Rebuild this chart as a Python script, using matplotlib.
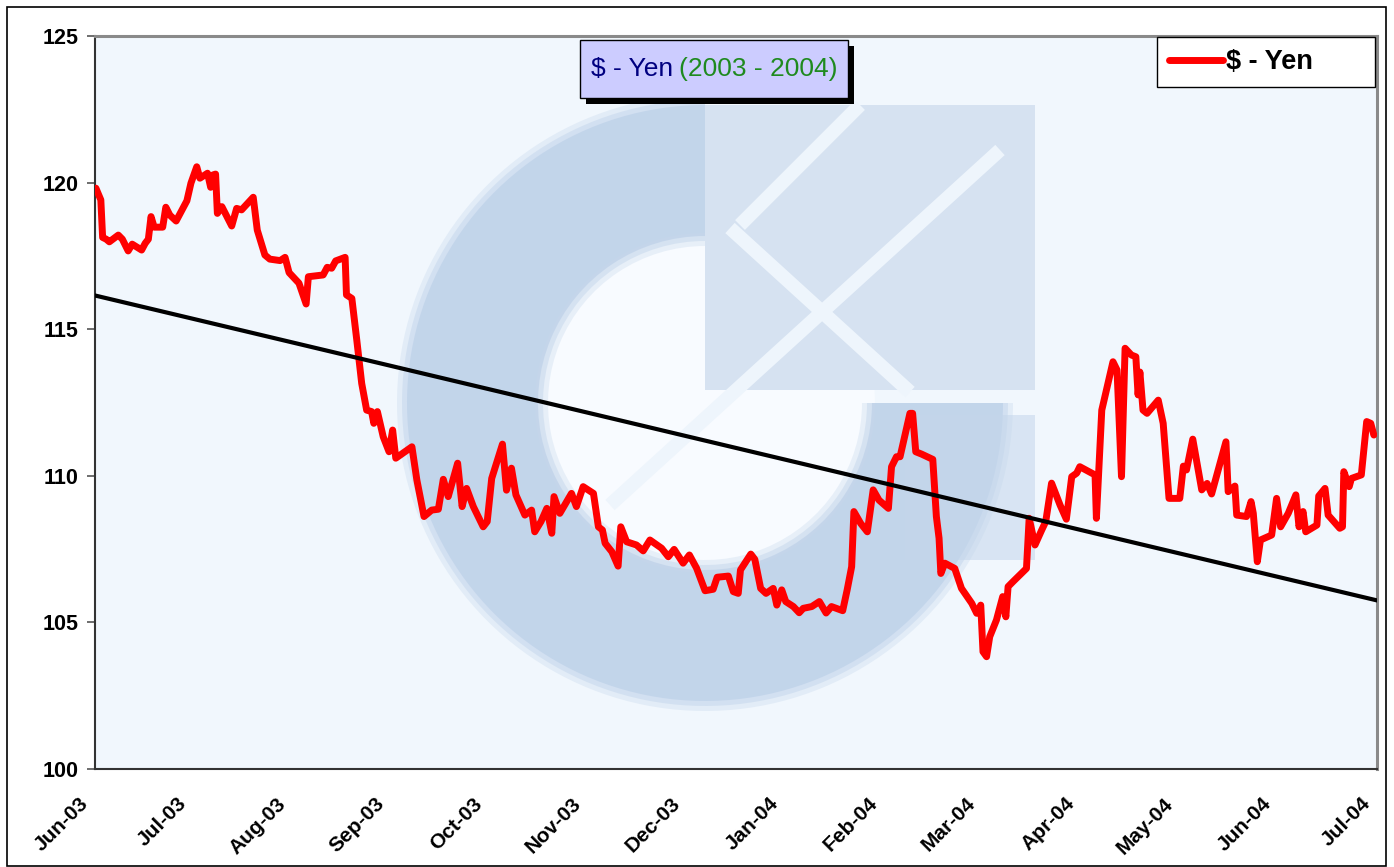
import matplotlib.pyplot as plt
import matplotlib.patches as mpatches
import matplotlib.transforms as mtransforms
import numpy as np

# trading-day index (category position) and USD/JPY rate
day = [0.2, 1.3, 1.7, 2.5, 3.2, 5.2, 6.1, 7.4, 8.3, 10.4, 11.2, 11.9, 12.5, 13.2, 15.1,
       15.8, 16.7, 18.1, 20.5, 21.4, 22.7, 23.4, 25.1, 25.8, 26.3, 26.9, 27.3, 28.3, 30.5,
       31.6, 32.7, 35.3, 36.2, 37.9, 39.0, 41.3, 42.4, 43.3, 45.5, 47.1, 47.6, 50.9, 51.8,
       52.8, 53.7, 55.8, 56.1, 57.3, 58.4, 59.5, 60.6, 61.7, 62.2, 63.0, 64.3, 65.6, 66.4,
       67.1, 70.7, 71.8, 73.4, 75.1, 76.6, 77.7, 78.8, 80.9, 81.9, 82.9, 84.4, 86.6, 87.5,
       88.5, 90.9, 91.8, 92.9, 93.9, 95.9, 97.4, 98.1, 99.5, 100.8, 101.9, 102.4, 103.7,
       106.3, 107.4, 108.9, 111.2, 112.3, 113.2, 113.8, 115.3, 116.7, 117.3, 118.6, 120.8,
       122.3, 123.8, 126.4, 127.9, 129.2, 131.2, 132.6, 134.2, 136.1, 137.9, 138.8, 141.3,
       142.4, 143.5, 144.0, 146.3, 147.2, 148.5, 149.7, 151.3, 152.1, 153.2, 154.1, 155.8,
       157.1, 158.0, 159.9, 161.6, 163.1, 164.3, 166.8, 167.8, 168.8, 169.3, 170.8, 172.3,
       173.6, 174.9, 177.0, 177.7, 178.8, 179.6, 181.8, 182.4, 183.1, 184.4, 186.9, 187.7,
       188.3, 188.7, 189.6, 191.8, 193.3, 195.6, 196.7, 197.6, 198.1, 198.9, 199.6, 201.1,
       202.5, 203.2, 203.7, 204.8, 207.8, 208.4, 209.7, 211.2, 212.1, 213.4, 215.3, 216.7,
       217.9, 219.0, 219.7, 223.1, 223.4, 224.6, 227.1, 228.0, 229.0, 229.8, 231.2, 232.2,
       232.7, 233.1, 233.8, 234.7, 237.2, 238.3, 239.6, 242.0, 242.8, 243.5, 244.9, 246.9,
       248.1, 249.1, 252.3, 252.8, 254.3, 254.7, 256.9, 257.9, 258.4, 259.3, 260.0, 262.5,
       263.6, 264.5, 266.2, 267.9, 268.6, 269.5, 270.1, 272.6, 273.0, 274.4, 275.1, 277.7,
       278.3, 278.6, 279.8, 280.3, 282.5, 283.7, 284.6, 285.3]
rate = [119.81, 119.41, 118.13, 118.07, 117.98, 118.21, 118.07, 117.67, 117.90, 117.70,
        117.93, 118.07, 118.84, 118.48, 118.48, 119.16, 118.89, 118.69, 119.38, 119.98,
        120.54, 120.15, 120.32, 119.84, 120.26, 120.29, 118.95, 119.18, 118.52, 119.12,
        119.07, 119.50, 118.38, 117.53, 117.39, 117.34, 117.45, 116.93, 116.57, 115.86,
        116.79, 116.85, 117.11, 117.08, 117.33, 117.45, 116.17, 116.05, 114.63, 113.15,
        112.24, 112.19, 111.79, 112.19, 111.33, 110.82, 111.56, 110.60, 110.99, 109.86,
        108.61, 108.83, 108.86, 109.88, 109.29, 110.43, 108.95, 109.57, 108.95, 108.26,
        108.44, 109.91, 111.08, 109.51, 110.26, 109.35, 108.66, 108.83, 108.09, 108.44,
        108.89, 108.04, 109.29, 108.72, 109.40, 108.95, 109.63, 109.40, 108.26, 108.15,
        107.70, 107.41, 106.92, 108.26, 107.75, 107.64, 107.44, 107.81, 107.53, 107.24,
        107.49, 107.02, 107.30, 106.85, 106.08, 106.13, 106.54, 106.58, 106.05, 105.99,
        106.79, 107.33, 107.15, 106.16, 105.99, 106.16, 105.59, 106.11, 105.71, 105.54,
        105.33, 105.48, 105.54, 105.71, 105.32, 105.54, 105.40, 106.11, 106.90, 108.78,
        108.38, 108.09, 109.52, 109.17, 108.89, 110.31, 110.65, 110.65, 112.13, 112.13,
        110.82, 110.74, 110.56, 108.61, 107.87, 106.67, 107.02, 106.84, 106.16, 105.65,
        105.31, 105.59, 104.00, 103.83, 104.51, 105.08, 105.88, 105.19, 106.22, 106.39,
        106.84, 108.55, 107.64, 108.15, 108.44, 109.75, 109.00, 108.52, 109.97, 110.09,
        110.31, 110.03, 108.55, 112.24, 113.89, 113.61, 109.97, 114.35, 114.12, 114.06,
        112.76, 113.54, 112.24, 112.13, 112.58, 111.79, 109.23, 109.23, 110.33, 110.20,
        111.25, 109.52, 109.74, 109.38, 111.16, 109.46, 109.65, 108.66, 108.61, 109.12,
        108.72, 107.07, 107.81, 107.98, 109.23, 108.26, 108.72, 109.35, 108.26, 108.78,
        108.09, 108.32, 109.31, 109.57, 108.66, 108.21, 108.26, 110.14, 109.63, 109.91,
        110.03, 111.85, 111.79, 111.39]

# linear trend line end points
trend_days = [0, 286]
trend_vals = [116.15, 105.75]

month_labels = ["Jun-03", "Jul-03", "Aug-03", "Sep-03", "Oct-03", "Nov-03", "Dec-03",
                "Jan-04", "Feb-04", "Mar-04", "Apr-04", "May-04", "Jun-04", "Jul-04"]
days_per_tick = 22
n_days = 286

FONT = "Liberation Sans"
W, H = 1394, 867

fig = plt.figure(figsize=(W / 100, H / 100), dpi=100)
fig.patch.set_facecolor("white")
ax = fig.add_axes([95 / W, (H - 769) / H, 1282 / W, 733 / H])
ax.set_facecolor("#f1f7fd")

# faded logo watermark, drawn in figure inches
px = fig.dpi_scale_trans
def pt(x, y):
    return (x / 100, (H - y) / 100)

ax.add_patch(mpatches.Circle(pt(705, 403), 1.7, transform=px, facecolor="#f8fbff",
                             edgecolor="none", zorder=0.3))
# soft ring: a few layered wedges
for r, w, a in [(3.08, 1.51, 0.25), (3.03, 1.41, 0.35), (2.98, 1.31, 0.55)]:
    ax.add_patch(mpatches.Wedge(pt(705, 403), r, 90, 360, width=w, transform=px,
                                facecolor="#b6cce6", edgecolor="none", alpha=a, zorder=0.5))
ax.add_patch(mpatches.Rectangle(pt(705, 390), 3.3, 2.85, transform=px,
                                facecolor="#d6e2f1", edgecolor="none", zorder=0.5))
ax.add_patch(mpatches.Rectangle(pt(905, 560), 1.3, 1.45, transform=px,
                                facecolor="#c4d6eb", edgecolor="none", alpha=0.55, zorder=0.5))
for (x0, y0), (x1, y1) in [((610, 505), (1000, 150)), ((730, 228), (910, 392)),
                           ((740, 225), (860, 105))]:
    ax.plot([x0 / 100, x1 / 100], [(H - y0) / 100, (H - y1) / 100], transform=px,
            color="#eef5fc", lw=10, solid_capstyle="butt", zorder=0.6)

ax.plot(day, rate, color="#ff0000", lw=5.0, solid_joinstyle="round",
        solid_capstyle="round", zorder=3, label="$ - Yen")
ax.plot(trend_days, trend_vals, color="black", lw=3.0, zorder=4)

ax.set_xlim(0, n_days)
ax.set_ylim(100, 125)
ax.set_yticks(np.arange(100, 126, 5))
ax.set_xticks(np.arange(0, n_days + 1, days_per_tick))
ax.set_xticklabels(month_labels)

ax.tick_params(axis="y", direction="out", length=6, width=1.2, color="#555555", pad=6)
ax.tick_params(axis="x", length=0, pad=18)

for lab in ax.get_yticklabels():
    lab.set_fontfamily(FONT)
    lab.set_fontweight("bold")
    lab.set_fontsize(15.5)
shift = mtransforms.ScaledTranslation(-3 / 100, 0, fig.dpi_scale_trans)
for lab in ax.get_xticklabels():
    lab.set_fontfamily(FONT)
    lab.set_fontweight("bold")
    lab.set_fontsize(15)
    lab.set_rotation(45)
    lab.set_ha("right")
    lab.set_va("top")
    lab.set_transform(lab.get_transform() + shift)

for side in ("top", "right"):
    ax.spines[side].set_color("#8a8a8a")
    ax.spines[side].set_linewidth(2.2)
for side in ("left", "bottom"):
    ax.spines[side].set_color("#333333")
    ax.spines[side].set_linewidth(1.5)

leg = ax.legend(loc="upper left", bbox_to_anchor=(0.8284, 0.9345, 0.170, 0.064),
                mode="expand", frameon=True, fancybox=False, borderaxespad=0.0,
                handlelength=2.0, handletextpad=0.1, borderpad=0.45,
                prop={"family": FONT, "weight": "bold", "size": 19.5})
leg.get_frame().set_edgecolor("black")
leg.get_frame().set_linewidth(1.0)
leg.get_frame().set_facecolor("white")
leg.get_frame().set_alpha(1)
leg.set_zorder(6)

# title box with drop shadow
def fig_rect(x0, y0, x1, y1, **kw):
    return mpatches.Rectangle((x0 / W, (H - y1) / H), (x1 - x0) / W, (y1 - y0) / H,
                              transform=fig.transFigure, **kw)

fig.patches.append(fig_rect(586, 46, 854, 104, facecolor="black", edgecolor="none", zorder=7))
fig.patches.append(fig_rect(580, 40, 848, 98, facecolor="#ccccff", edgecolor="black",
                            linewidth=1.0, zorder=8))
fig.text(673 / W, 1 - 69 / H, "$ - Yen", ha="right", va="center", color="#000080",
         fontsize=19, fontfamily=FONT, zorder=9)
fig.text(679 / W, 1 - 69 / H, "(2003 - 2004)", ha="left", va="center", color="#1f8a1f",
         fontsize=19, fontfamily=FONT, zorder=9)

# outer chart border
fig.patches.append(fig_rect(7, 7, 1386, 866, facecolor="none", edgecolor="black",
                            linewidth=1.2, zorder=1))

fig.savefig("out.png", dpi=100)
